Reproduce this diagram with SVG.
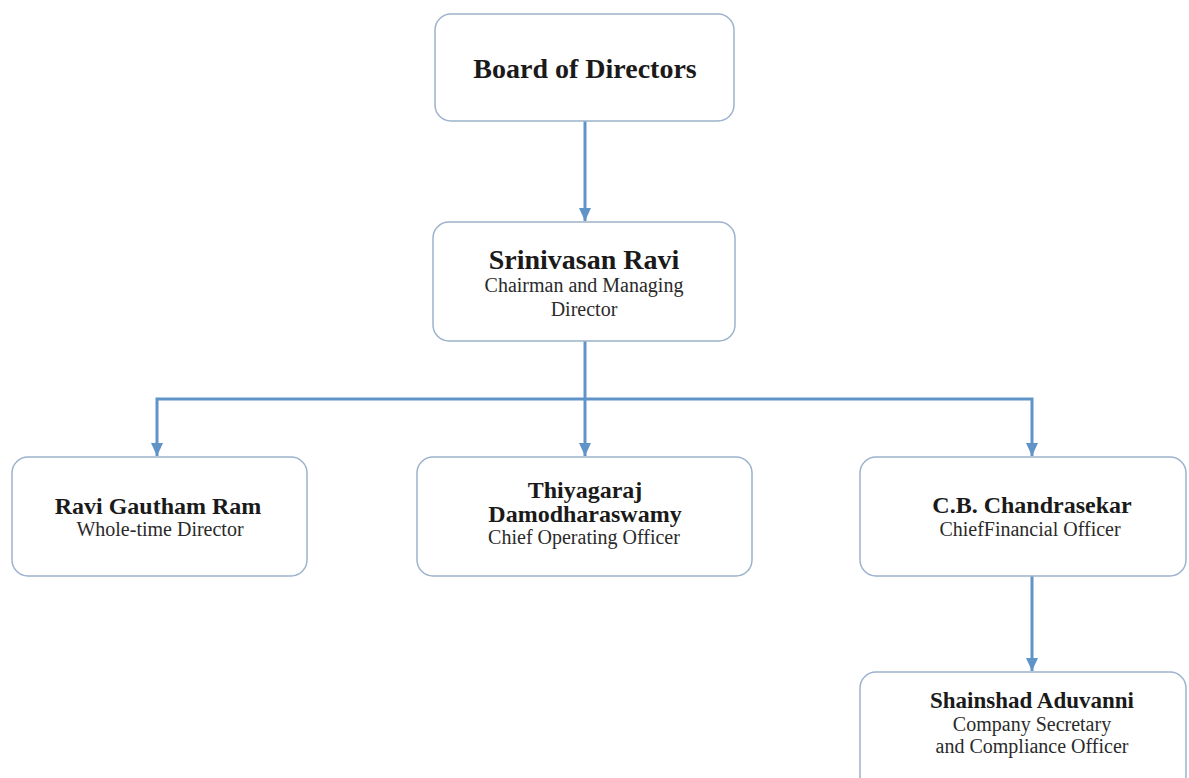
<svg xmlns="http://www.w3.org/2000/svg" width="1189" height="778" viewBox="0 0 1189 778">
<style>
.box{fill:#ffffff;stroke:#9db2cc;stroke-width:1.5}
.name{font-family:"Liberation Serif","Times New Roman",serif;font-weight:bold;fill:#1a1a1a;text-anchor:middle}
.role{font-family:"Liberation Serif","Times New Roman",serif;font-size:20px;fill:#2a2a2a;text-anchor:middle}
.conn{fill:none;stroke:#6094c9;stroke-width:3}
</style>
<defs>
<marker id="ad" markerUnits="userSpaceOnUse" markerWidth="14" markerHeight="14" viewBox="0 0 14 14" refX="7" refY="13" orient="0">
<path d="M1,0 L13,0 L7,13 Z" fill="#6094c9"/>
</marker>
</defs>
<rect width="1189" height="778" fill="#ffffff"/>
<g id="connectors">
<line class="conn" x1="585" y1="121" x2="585" y2="221" marker-end="url(#ad)"/>
<line class="conn" x1="585" y1="341" x2="585" y2="456" marker-end="url(#ad)"/>
<polyline class="conn" points="157,456 157,399 1032,399 1032,456" marker-start="url(#ad)" marker-end="url(#ad)"/>
<line class="conn" x1="1032" y1="576" x2="1032" y2="671" marker-end="url(#ad)"/>
</g>
<g id="board">
<rect class="box" x="435" y="14" width="299" height="107" rx="16"/>
<text class="name" x="585" y="78" font-size="28">Board of Directors</text>
</g>
<g id="srinivasan">
<rect class="box" x="433" y="222" width="302" height="119" rx="16"/>
<text class="name" x="584" y="269" font-size="28">Srinivasan Ravi</text>
<text class="role" x="584" y="292">Chairman and Managing</text>
<text class="role" x="584" y="316">Director</text>
</g>
<g id="ravi">
<rect class="box" x="12" y="457" width="295" height="119" rx="16"/>
<text class="name" x="158" y="514" font-size="24">Ravi Gautham Ram</text>
<text class="role" x="160" y="536">Whole-time Director</text>
</g>
<g id="thiyagaraj">
<rect class="box" x="417" y="457" width="335" height="119" rx="16"/>
<text class="name" x="585" y="498" font-size="24">Thiyagaraj</text>
<text class="name" x="585" y="522" font-size="24">Damodharaswamy</text>
<text class="role" x="584" y="544">Chief Operating Officer</text>
</g>
<g id="chandrasekar">
<rect class="box" x="860" y="457" width="326" height="119" rx="16"/>
<text class="name" x="1032" y="513" font-size="24">C.B. Chandrasekar</text>
<text class="role" x="1030" y="536">ChiefFinancial Officer</text>
</g>
<g id="shainshad">
<rect class="box" x="860" y="672" width="326" height="130" rx="16"/>
<text class="name" x="1032" y="708" font-size="23">Shainshad Aduvanni</text>
<text class="role" x="1032" y="731">Company Secretary</text>
<text class="role" x="1032" y="753">and Compliance Officer</text>
</g>
</svg>
